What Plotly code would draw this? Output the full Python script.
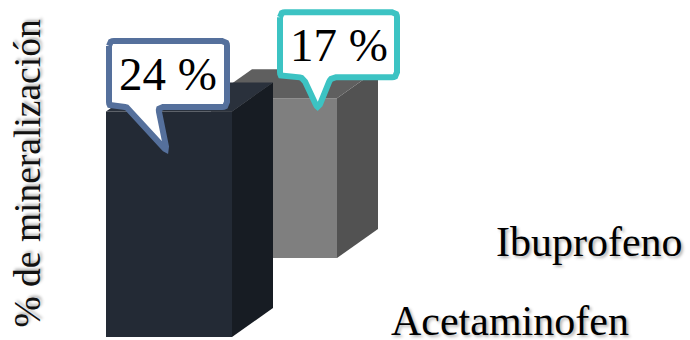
import numpy as np
import plotly.graph_objects as go

# ---------------- data ----------------
categories = ["Acetaminofen", "Ibuprofeno"]   # row 0 = front, row 1 = back
values = [24, 17]
label_texts = ["24 %", "17 %"]
y_title = "% de mineralización"

# ---------------- style ----------------
face_colors = ["#232a35", "#7f7f7f"]
side_colors = ["#171c23", "#525252"]
top_colors = ["#2a313c", "#5f5f5f"]
callout_colors = ["#55709c", "#3cc3c3"]
FONT = "Liberation Serif, Times New Roman, serif"

W_PX, H_PX = 690, 340
K = 9.4            # pixels per value unit
BASE_PX = 337      # pixel row of the value-axis zero for the front row
X0 = 106           # left edge of front row's front face (x axis in px units)
BAR_W = 126
DX = 41            # depth extrusion (x)
DY = 29 / K        # depth extrusion (y, value units)
ROW_DX = 105       # offset between depth rows
ROW_DY = 79 / K

# callout geometry per bar, px offsets from the bar's front-top-left corner
callout_geo = [
    dict(left=3, right=121, top=-70.5, bottom=-4.5, tl=22, tr=52, tipx=61, tipy=40),
    dict(left=69, right=186, top=-86, bottom=-21, tl=92, tr=120, tipx=107, tipy=11),
]


def yv(px_offset):
    """convert a pixel offset (downwards positive) to value units (upwards)"""
    return -px_offset / K


fig = go.Figure()

order = [1, 0]  # back row first
for r in order:
    fig.add_trace(go.Bar(
        x=[X0 + r * ROW_DX + BAR_W / 2], y=[values[r]], base=[r * ROW_DY],
        width=[BAR_W], marker=dict(color=face_colors[r], line=dict(width=0)),
        hoverinfo="skip", showlegend=False,
    ))

for r in order:
    x0 = X0 + r * ROW_DX
    base = r * ROW_DY
    top = base + values[r]
    x1 = x0 + BAR_W
    fig.add_trace(go.Scatter(
        x=[x1, x1 + DX, x1 + DX, x1, x1],
        y=[base, base + DY, top + DY, top, base],
        fill="toself", fillcolor=side_colors[r], mode="lines",
        line=dict(width=0, color=side_colors[r]), hoverinfo="skip", showlegend=False))
    fig.add_trace(go.Scatter(
        x=[x0, x1, x1 + DX, x0 + DX, x0],
        y=[top, top, top + DY, top + DY, top],
        fill="toself", fillcolor=top_colors[r], mode="lines",
        line=dict(width=0, color=top_colors[r]), hoverinfo="skip", showlegend=False))


def rounded_poly(pts, rad=5, n=6):
    out = []
    m = len(pts)
    for i in range(m):
        p = np.array(pts[i], float)
        a = np.array(pts[i - 1], float)
        b = np.array(pts[(i + 1) % m], float)
        da = (a - p) / np.linalg.norm(a - p)
        db = (b - p) / np.linalg.norm(b - p)
        pa = p + da * rad
        pb = p + db * rad
        for t in np.linspace(0, 1, n):
            q = (1 - t) ** 2 * pa + 2 * (1 - t) * t * p + t ** 2 * pb
            out.append(q)
    out.append(out[0])
    return np.array(out)


for r in order:
    g = callout_geo[r]
    x0 = X0 + r * ROW_DX
    top = r * ROW_DY + values[r]
    pts_px = [
        (g["left"], g["top"]), (g["right"], g["top"]), (g["right"], g["bottom"]),
        (g["tr"], g["bottom"]), (g["tipx"], g["tipy"]), (g["tl"], g["bottom"]),
        (g["left"], g["bottom"]),
    ]
    poly = rounded_poly(pts_px, rad=5)
    fig.add_trace(go.Scatter(
        x=x0 + poly[:, 0], y=top + yv(poly[:, 1]),
        fill="toself", fillcolor="white", mode="lines",
        line=dict(width=6, color=callout_colors[r]),
        hoverinfo="skip", showlegend=False))
    fig.add_annotation(
        x=x0 + (g["left"] + g["right"]) / 2, y=top + yv((g["top"] + g["bottom"]) / 2),
        xref="x", yref="y", text=label_texts[r], showarrow=False,
        xanchor="center", yanchor="middle",
        font=dict(family=FONT, size=47, color="#000000"))

# depth-axis category labels
for r in range(len(categories)):
    fig.add_annotation(
        x=X0 + r * ROW_DX + 283, y=r * ROW_DY + 16 / K,
        xref="x", yref="y", text=categories[r], showarrow=False,
        xanchor="left", yanchor="middle",
        font=dict(family=FONT, size=42, color="#000000",
                  shadow="2px 2px 3px rgba(0,0,0,0.3)"))

# value-axis title
fig.add_annotation(
    x=27 / W_PX, y=1 - 173.5 / H_PX, xref="paper", yref="paper",
    text=y_title, textangle=-90, showarrow=False,
    xanchor="center", yanchor="middle",
    font=dict(family=FONT, size=37.5, color="#111111",
              shadow="2px 2px 3px rgba(0,0,0,0.3)"))

fig.update_layout(
    width=W_PX, height=H_PX, margin=dict(l=0, r=0, t=0, b=0),
    paper_bgcolor="white", plot_bgcolor="white",
    xaxis=dict(range=[0, W_PX], visible=False, fixedrange=True),
    yaxis=dict(range=[-(H_PX - BASE_PX) / K, BASE_PX / K], visible=False, fixedrange=True),
    barmode="overlay", showlegend=False,
)

fig.write_html("out.html")
